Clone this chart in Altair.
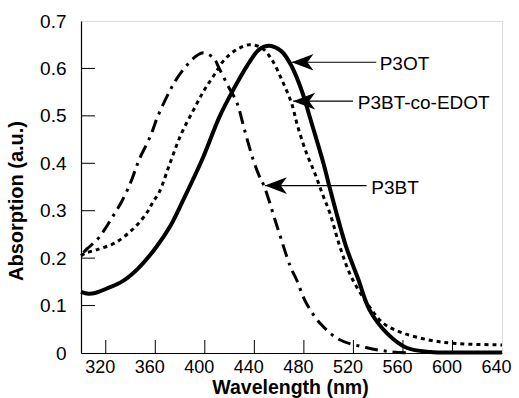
import altair as alt
import pandas as pd

# ---- data ----
p3ot_wl = [300, 306, 312, 320, 334, 346, 361, 372, 383, 393, 399, 412, 423, 434, 444, 452,
           462, 470, 478, 487, 496, 500, 506, 514, 524, 533, 547, 563, 582, 610, 640]
p3ot_abs = [0.129, 0.125, 0.127, 0.135, 0.152, 0.178, 0.224, 0.267, 0.325, 0.380, 0.415, 0.499,
            0.555, 0.605, 0.640, 0.648, 0.636, 0.605, 0.555, 0.478, 0.398, 0.357, 0.298, 0.225,
            0.155, 0.091, 0.042, 0.011, 0.002, 0.001, 0.001]

edot_wl = [300, 303, 313, 328, 341, 349, 354, 358, 363, 372, 381, 391, 399, 407, 416, 426, 436,
           446, 454, 462, 470, 475, 482, 489, 495, 501, 509, 518, 531, 544, 560, 582, 603, 640]
edot_abs = [0.205, 0.210, 0.218, 0.233, 0.259, 0.281, 0.299, 0.318, 0.338, 0.401, 0.462, 0.513,
            0.552, 0.584, 0.619, 0.640, 0.650, 0.643, 0.619, 0.577, 0.527, 0.478, 0.422, 0.378,
            0.335, 0.295, 0.225, 0.162, 0.105, 0.063, 0.042, 0.027, 0.020, 0.017]

p3bt_wl = [302, 305, 313, 319, 325, 333, 340, 344, 347, 356, 362, 371, 377, 385, 393, 399, 407,
           412, 419, 426, 432, 439, 444, 448, 458, 469, 474, 482, 494, 509, 531, 549, 565]
p3bt_abs = [0.212, 0.220, 0.239, 0.260, 0.285, 0.320, 0.359, 0.387, 0.408, 0.457, 0.499, 0.549,
            0.577, 0.605, 0.626, 0.633, 0.622, 0.598, 0.562, 0.527, 0.471, 0.408, 0.373, 0.351,
            0.270, 0.183, 0.155, 0.105, 0.060, 0.028, 0.011, 0.003, 0.0]

x_ticks = [320, 360, 400, 440, 480, 520, 560, 600, 640]
y_ticks = [0, 0.1, 0.2, 0.3, 0.4, 0.5, 0.6, 0.7]
inner_x_ticks = [320, 360, 400, 440, 480, 520, 560, 600]
inner_y_ticks = [0.1, 0.2, 0.3, 0.4, 0.5, 0.6]

# annotations
label_text = ["P3OT", "P3BT-co-EDOT", "P3BT"]
tip_wl = [470.0, 471.3, 448.5]
tip_abs = [0.613, 0.531, 0.353]
line_end_wl = [538.5, 519.7, 530.5]
text_wl = [541.2, 523.5, 534.5]

W, H = 421, 332
FONT = "Liberation Sans"

x_scale = alt.Scale(domain=[300, 640], nice=False, zero=False)
y_scale = alt.Scale(domain=[0, 0.7], nice=False, zero=False)

x_axis = alt.Axis(values=x_ticks, title="Wavelength (nm)", ticks=False, tickSize=0,
                  domain=True, domainColor="black", domainWidth=1.2, grid=False,
                  labelFont=FONT, labelFontSize=18, labelColor="black",
                  labelPadding=19.3, labelBaseline="alphabetic", labelOffset=-6,
                  labelFlush=False, labelOverlap=False,
                  titleFont=FONT, titleFontSize=19.5, titleFontWeight="bold", titleColor="black",
                  titleBaseline="alphabetic", titleAlign="center", titleX=209, titleY=40.6)
y_axis = alt.Axis(values=y_ticks, title="Absorption (a.u.)", ticks=False, tickSize=0,
                  domain=True, domainColor="black", domainWidth=1.2, grid=False,
                  labelExpr="datum.value == 0 ? '0' : format(datum.value, '.1f')",
                  labelFont=FONT, labelFontSize=19, labelColor="black",
                  labelPadding=15, labelFlush=False, labelOverlap=False,
                  titleFont=FONT, titleFontSize=20, titleFontWeight="bold", titleColor="black",
                  titleAngle=270, titleBaseline="alphabetic", titleAlign="center",
                  titleX=-58.5, titleY=179.5)


def X(field):
    return alt.X(field, type="quantitative", scale=x_scale, axis=x_axis)


def Y(field):
    return alt.Y(field, type="quantitative", scale=y_scale, axis=y_axis)


p3ot_df = pd.DataFrame({"wl": p3ot_wl, "abs": p3ot_abs})
edot_df = pd.DataFrame({"wl": edot_wl, "abs": edot_abs})
p3bt_df = pd.DataFrame({"wl": p3bt_wl, "abs": p3bt_abs})

solid = alt.Chart(p3ot_df).mark_line(color="black", strokeWidth=4, interpolate="catmull-rom").encode(
    x=X("wl"), y=Y("abs"))
dotted = alt.Chart(edot_df).mark_line(color="black", strokeWidth=3, strokeDash=[4, 4],
                                      interpolate="catmull-rom").encode(x=X("wl"), y=Y("abs"))
dashdot = alt.Chart(p3bt_df).mark_line(color="black", strokeWidth=3, strokeDash=[13, 6, 3, 6],
                                       interpolate="catmull-rom").encode(x=X("wl"), y=Y("abs"))

xt = alt.Chart(pd.DataFrame({"v": inner_x_ticks})).mark_rule(color="black", strokeWidth=1).encode(
    x=X("v"), y=alt.value(H), y2=alt.value(H - 13))
yt = alt.Chart(pd.DataFrame({"v": inner_y_ticks})).mark_rule(color="black", strokeWidth=1).encode(
    y=Y("v"), x=alt.value(0), x2=alt.value(14))

ann_df = pd.DataFrame({"label": label_text, "tip": tip_wl, "a": tip_abs,
                       "end": line_end_wl, "tx": text_wl})
arrow_lines = alt.Chart(ann_df).mark_rule(color="black", strokeWidth=1.2).encode(
    x=X("tip"), x2="end:Q", y=Y("a"))
arrow_heads = alt.Chart(ann_df).mark_point(
    shape="M 0 0 L 2 -0.76 L 1.45 0 L 2 0.76 Z", filled=True, size=484, color="black",
    opacity=1).encode(x=X("tip"), y=Y("a"))
labels = alt.Chart(ann_df).mark_text(font=FONT, fontSize=19, align="left", baseline="middle",
                                     dy=2, color="black").encode(
    x=X("tx"), y=Y("a"), text="label:N")

chart = alt.layer(solid, dotted, dashdot, xt, yt, arrow_lines, arrow_heads, labels).properties(
    width=W, height=H,
    autosize=alt.AutoSizeParams(type="none"),
    padding={"left": 81, "top": 21, "right": 17, "bottom": 45},
).configure_view(stroke="black", strokeWidth=1.2).configure(background="white")

chart.save("out.html", embed_options={"renderer": "svg", "actions": False})
